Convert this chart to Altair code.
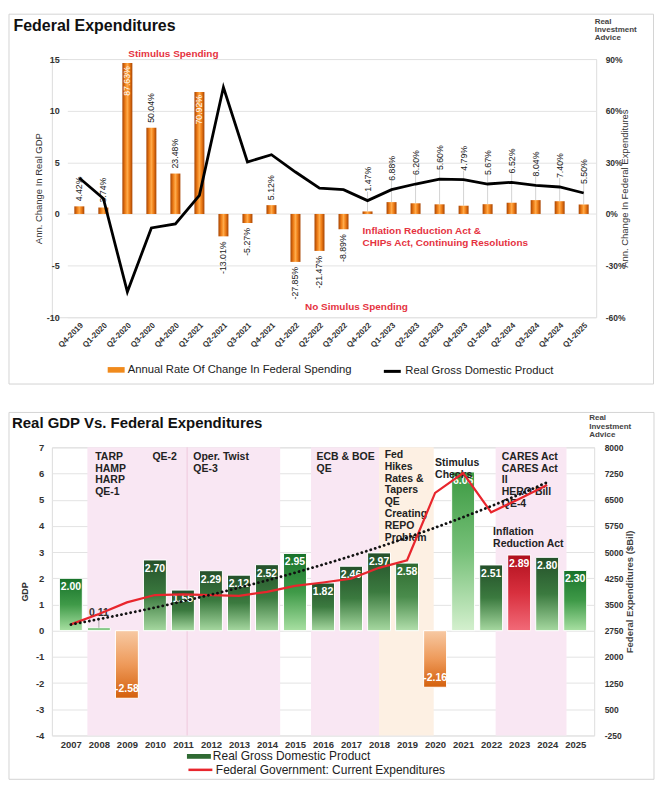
import altair as alt
import pandas as pd

# ---------------- data: top panel (quarterly) ----------------
quarters = ["Q4-2019", "Q1-2020", "Q2-2020", "Q3-2020", "Q4-2020", "Q1-2021", "Q2-2021",
            "Q3-2021", "Q4-2021", "Q1-2022", "Q2-2022", "Q3-2022", "Q4-2022", "Q1-2023",
            "Q2-2023", "Q3-2023", "Q4-2023", "Q1-2024", "Q2-2024", "Q3-2024", "Q4-2024", "Q1-2025"]
fed_spending_pct = [4.42, 3.74, 87.63, 50.04, 23.48, 70.92, -13.01, -5.27, 5.12, -27.85, -21.47,
                    -8.89, 1.47, 6.88, 6.20, 5.60, 4.79, 5.67, 6.52, 8.04, 7.40, 5.50]
real_gdp_quarterly = [3.48, 1.5, -7.54, -1.35, -0.97, 1.8, 12.27, 5.03, 5.74, 4.06, 2.5,
                      2.35, 1.29, 2.35, 2.9, 3.38, 3.32, 2.9, 3.06, 2.77, 2.61, 2.03]

top_notes = ["Stimulus Spending", "No Simulus Spending",
             "Inflation Reduction Act &\nCHIPs Act, Continuing Resolutions"]
top_note_quarter = ["Q4-2020", "Q3-2022", "Q4-2022"]
top_note_gdp = [15.46, -9.0, -1.2]

# ---------------- data: bottom panel (annual) ----------------
years = list(range(2007, 2026))
real_gdp_annual = [2.00, 0.11, -2.58, 2.70, 1.55, 2.29, 2.12, 2.52, 2.95, 1.82, 2.46, 2.97,
                   2.58, -2.16, 6.06, 2.51, 2.89, 2.80, 2.30]
exp_years = list(range(2007, 2025))
fed_expenditures_bil = [2930, 3230, 3560, 3770, 3792, 3770, 3748, 3860, 4032, 4130, 4242, 4550,
                        4767, 6695, 7265, 6140, 6522, 6920]

pink_start = [2007.59, 2015.57, 2022.16]
pink_end = [2014.47, 2018.0, 2024.69]
peach_start = [2018.0]
peach_end = [2019.95]
divider_years = [2011.15]

bottom_notes = ["TARP\nHAMP\nHARP\nQE-1", "QE-2", "Oper. Twist\nQE-3", "ECB & BOE\nQE",
                "Fed\nHikes\nRates &\nTapers\nQE\nCreating\nREPO\nProblem", "Stimulus\nChecks",
                "CARES Act\nCARES Act\nII\nHERO Bill\nQE-4", "Inflation\nReduction Act"]
bottom_note_year = [2007.87, 2009.91, 2011.37, 2015.77, 2018.2, 2020.0, 2022.38, 2022.07]
bottom_note_gdp = [6.83, 6.83, 6.83, 6.83, 6.89, 6.6, 6.83, 3.94]

# ---------------- styling ----------------
FONT = "Liberation Sans"
RED_TXT = "#e5333f"
X0 = 15.5                  # left inset of the top plot's bands inside its (wider) group
W1, H1 = 546, 259
W2, H2 = 544, 289
HYPHEN_LABEL = "datum.value + ''"

BAR_STYLE = {
    "dark": [2010, 2011, 2012, 2013, 2014, 2016, 2017, 2018, 2022, 2024],
    "bright": [2007, 2015, 2025],
    "mid": [2019],
    "light": [2021],
    "small": [2008],
    "neg": [2009, 2020],
    "red": [2023],
}
GRAD_COLORS = {
    "dark": ["#24502a", "#3b7a3f", "#a6d8a0"],
    "bright": ["#17722a", "#3f9a48", "#a8e0a2"],
    "mid": ["#2e6a30", "#4a8c4c", "#b2dfac"],
    "light": ["#3c9a42", "#76c078", "#d4f0ce"],
    "small": ["#4aa84e", "#7cc47c", "#b8e4b4"],
    "neg": ["#f7c9a3", "#ee9a5a", "#d4600c"],
    "red": ["#b0101e", "#d8303e", "#f26a78"],
}


def vgrad(cols):
    return alt.Gradient(gradient="linear",
                        stops=[alt.GradientStop(color=cols[0], offset=0),
                               alt.GradientStop(color=cols[1], offset=0.5),
                               alt.GradientStop(color=cols[2], offset=1)],
                        x1=0, x2=0, y1=0, y2=1)


orange_grad = alt.Gradient(gradient="linear",
                           stops=[alt.GradientStop(color="#a84300", offset=0),
                                  alt.GradientStop(color="#f0801a", offset=0.3),
                                  alt.GradientStop(color="#ffab4a", offset=0.5),
                                  alt.GradientStop(color="#f0801a", offset=0.7),
                                  alt.GradientStop(color="#a84300", offset=1)],
                           x1=0, x2=1, y1=0, y2=0)

one_row = alt.Data(values=[{"k": 1}])

# ================= TOP PANEL =================
top_df = pd.DataFrame({"q": quarters, "pct": fed_spending_pct, "gdp": real_gdp_quarterly})
top_df["i"] = range(len(top_df))
base_top = alt.Chart(top_df)

x_top_axis = alt.Axis(title=None, labelAngle=315, labelFontSize=8, labelFontWeight="bold",
                      labelColor="#333", ticks=False, domain=False, labelPadding=4, grid=False)


def x_top(field="q"):
    return alt.X(f"{field}:N", sort=quarters,
                 scale=alt.Scale(domain=quarters, paddingInner=0, paddingOuter=0,
                                 range=[X0, W1 - 0.5]),
                 axis=x_top_axis)


right_axis_top = alt.Axis(orient="right", values=[-60, -30, 0, 30, 60, 90],
                          labelExpr="datum.value + '%'",
                          title="Ann. Change In Federal Expenditures", titleAngle=270,
                          titleFontSize=9.5, titleFontWeight="normal", titleColor="#333",
                          labelFontSize=8.5, labelFontWeight="bold", labelColor="#333",
                          ticks=False, domain=False, grid=False, labelPadding=9, titlePadding=5)


def y_right(field):
    return alt.Y(f"{field}:Q", scale=alt.Scale(domain=[-60, 90], nice=False), axis=right_axis_top)


left_axis_top = alt.Axis(orient="left", values=[-10, -5, 0, 5, 10, 15], offset=-X0,
                         labelExpr=HYPHEN_LABEL,
                         title="Ann. Change In Real GDP", titleFontSize=9.5,
                         titleFontWeight="normal", titleColor="#333",
                         labelFontSize=9, labelFontWeight="bold", labelColor="#333",
                         ticks=False, domain=False, grid=True, gridColor="#e3e3e3",
                         labelPadding=8, titlePadding=3)


def y_left(field):
    return alt.Y(f"{field}:Q", scale=alt.Scale(domain=[-10, 15], nice=False), axis=left_axis_top)


lbl_calc = "(datum.pct < 0 ? '-' : '') + format(abs(datum.pct), '.2f') + '%'"

leaders = base_top.transform_filter("datum.i >= 12").transform_calculate(
    gdp6="datum.gdp * 6").mark_rule(color="#c8c8c8", strokeWidth=0.8, y2Offset=-9).encode(
    x=x_top(), y=y_right("pct"), y2="gdp6:Q")

bars_top = base_top.mark_bar(size=10, color=orange_grad).encode(x=x_top(), y=y_right("pct"))

lab_in = base_top.transform_filter("datum.pct > 60").transform_calculate(lbl=lbl_calc).mark_text(
    angle=270, align="right", baseline="middle", dx=-3, fontSize=8.8, color="white").encode(
    x=x_top(), y=y_right("pct"), text="lbl:N")
lab_pos = base_top.transform_filter("datum.pct >= 0 && datum.pct <= 60 && datum.i < 12").transform_calculate(
    lbl=lbl_calc).mark_text(angle=270, align="left", baseline="middle", dx=5, fontSize=8.8,
                            color="#222").encode(x=x_top(), y=y_right("pct"), text="lbl:N")
lab_neg = base_top.transform_filter("datum.pct < 0").transform_calculate(lbl=lbl_calc).mark_text(
    angle=270, align="right", baseline="middle", dx=-5, fontSize=8.8, color="#222").encode(
    x=x_top(), y=y_right("pct"), text="lbl:N")

spend_label = "Annual Rate Of Change In Federal Spending"
helper_top = alt.Chart(alt.Data(values=[{"s": spend_label}])).transform_filter("false").mark_bar().encode(
    fill=alt.Fill("s:N", scale=alt.Scale(domain=[spend_label], range=["#f08a1c"]),
                  legend=alt.Legend(title=None, orient="none", legendX=56, legendY=303.3,
                                    symbolType="M-1,-0.33H1V0.33H-1Z", symbolSize=289,
                                    symbolStrokeWidth=0, labelFontSize=11.3, labelColor="#222",
                                    labelLimit=500, labelOffset=3, padding=0)))

bars_group = alt.layer(leaders, bars_top, lab_in, lab_pos, lab_neg, helper_top)

gdp_label = "Real Gross Domestic Product"
line_top = base_top.transform_calculate(series=f"'{gdp_label}'").mark_line(strokeWidth=2.8).encode(
    x=x_top(), y=y_left("gdp"),
    stroke=alt.Stroke("series:N", scale=alt.Scale(domain=[gdp_label], range=["#000000"]),
                      legend=alt.Legend(title=None, orient="none", legendX=331.5, legendY=303.3,
                                        symbolType="stroke", symbolSize=289, symbolStrokeWidth=3,
                                        labelFontSize=11.3, labelColor="#222", labelLimit=500,
                                        labelOffset=3, padding=0)))

callouts = base_top.transform_filter("datum.i >= 12").transform_calculate(lbl=lbl_calc).mark_text(
    angle=270, align="left", baseline="middle", dx=9, fontSize=8.8, color="#222").encode(
    x=x_top(), y=y_left("gdp"), text="lbl:N")

tn = pd.DataFrame({"t": top_notes, "q": top_note_quarter, "g": top_note_gdp})
note_a = alt.Chart(tn.iloc[[0]]).mark_text(align="center", baseline="middle", dx=-2, fontSize=10,
                                            fontWeight="bold", color=RED_TXT).encode(
    x=x_top(), y=y_left("g"), text="t:N")
note_b = alt.Chart(tn.iloc[[1]]).mark_text(align="center", baseline="middle", dx=13, fontSize=10,
                                            fontWeight="bold", color=RED_TXT).encode(
    x=x_top(), y=y_left("g"), text="t:N")
note_c = alt.Chart(tn.iloc[[2]]).mark_text(align="left", baseline="top", dx=-5, fontSize=10,
                                            fontWeight="bold", color=RED_TXT, lineBreak="\n",
                                            lineHeight=11.3).encode(
    x=x_top(), y=y_left("g"), text="t:N")

title_top = alt.Chart(one_row).mark_text(text="Federal Expenditures", align="left",
                                         baseline="alphabetic", fontSize=16, fontWeight="bold",
                                         color="#111").encode(x=alt.value(-38.5), y=alt.value(-28))
logo_top = alt.Chart(one_row).mark_text(text="Real\nInvestment\nAdvice", lineBreak="\n",
                                        lineHeight=8.2, align="left", baseline="top", fontSize=8,
                                        fontWeight="bold", color="#444").encode(
    x=alt.value(544.5), y=alt.value(-41))
frame_top = alt.Chart(one_row).mark_rect(fillOpacity=0, stroke="#d4d4d4", strokeWidth=1).encode(
    x=alt.value(-43), x2=alt.value(603.5), y=alt.value(-45), y2=alt.value(326))

line_group = alt.layer(line_top, callouts, note_a, note_b, note_c, title_top, logo_top, frame_top)

top = alt.layer(bars_group, line_group).resolve_scale(y="independent").properties(width=W1, height=H1)

# ================= BOTTOM PANEL =================
bot_df = pd.DataFrame({"year": years, "gdp": real_gdp_annual})
exp_df = pd.DataFrame({"year": exp_years, "bil": fed_expenditures_bil})

x_bot_axis = alt.Axis(values=years, format="d", title=None, labelFontSize=9.5,
                      labelFontWeight="bold", labelColor="#333", ticks=False, domain=False,
                      grid=False, labelPadding=4, labelAngle=0, labelOverlap=False,
                      labelFlush=False)


def x_bot(field):
    return alt.X(f"{field}:Q", scale=alt.Scale(domain=[2006.5, 2025.5], nice=False, zero=False),
                 axis=x_bot_axis)


gdp_scale = alt.Scale(domain=[-4, 7], nice=False)
left_axis_bot = alt.Axis(orient="left", values=list(range(-4, 8)), labelExpr=HYPHEN_LABEL,
                         labelOverlap=False, title="GDP", titleFontSize=9,
                         titleFontWeight="bold", titleColor="#333", labelFontSize=9.5,
                         labelFontWeight="bold", labelColor="#333", ticks=False, domain=False,
                         grid=True, gridColor="#e3e3e3", labelPadding=8, titlePadding=6)


def y_gdp(field):
    return alt.Y(f"{field}:Q", scale=gdp_scale, axis=left_axis_bot)


right_axis_bot = alt.Axis(orient="right",
                          values=[-250, 500, 1250, 2000, 2750, 3500, 4250, 5000, 5750, 6500, 7250, 8000],
                          labelExpr=HYPHEN_LABEL, labelOverlap=False,
                          title="Federal Expenditures ($Bil)", titleAngle=270,
                          titleFontSize=9.5, titleFontWeight="bold", titleColor="#444",
                          labelFontSize=8.5, labelFontWeight="bold", labelColor="#333",
                          ticks=False, domain=False, grid=False, labelPadding=10, titlePadding=12)


def y_bil(field):
    return alt.Y(f"{field}:Q", scale=alt.Scale(domain=[-250, 8000], nice=False, zero=False),
                 axis=right_axis_bot)


y_top_edge = alt.YDatum(7, type="quantitative", scale=gdp_scale, axis=left_axis_bot)
y_bottom_edge = alt.Y2Datum(-4)

pink = alt.Chart(pd.DataFrame({"s": pink_start, "e": pink_end})).mark_rect(color="#f9e7f3").encode(
    x=x_bot("s"), x2="e:Q", y=y_top_edge, y2=y_bottom_edge)
peach = alt.Chart(pd.DataFrame({"s": peach_start, "e": peach_end})).mark_rect(color="#fdf0e3").encode(
    x=x_bot("s"), x2="e:Q", y=y_top_edge, y2=y_bottom_edge)
divider = alt.Chart(pd.DataFrame({"d": divider_years})).mark_rule(color="#efc8dc", strokeWidth=1).encode(
    x=x_bot("d"), y=y_top_edge, y2=y_bottom_edge)

bar_layers = []
for name, yrs in BAR_STYLE.items():
    bar_layers.append(
        alt.Chart(bot_df).transform_filter(alt.FieldOneOfPredicate(field="year", oneOf=yrs))
        .mark_bar(size=23, orient="vertical", color=vgrad(GRAD_COLORS[name]), stroke="white",
                  strokeWidth=1)
        .encode(x=x_bot("year"), y=y_gdp("gdp")))

gdp_lbl = "(datum.gdp < 0 ? '-' : '') + format(abs(datum.gdp), '.2f')"
lab_w = alt.Chart(bot_df).transform_filter("datum.gdp >= 0.5").transform_calculate(lbl=gdp_lbl).mark_text(
    baseline="top", dy=4, fontSize=10.5, fontWeight="bold", color="white").encode(
    x=x_bot("year"), y=y_gdp("gdp"), text="lbl:N")
lab_s = alt.Chart(bot_df).transform_filter("datum.gdp >= 0 && datum.gdp < 0.5").transform_calculate(
    lbl=gdp_lbl).mark_text(baseline="bottom", dy=-10, fontSize=10.5, fontWeight="bold",
                           color="#333").encode(x=x_bot("year"), y=y_gdp("gdp"), text="lbl:N")
lead_s = alt.Chart(bot_df).transform_filter("datum.gdp >= 0 && datum.gdp < 0.5").mark_rule(
    color="#9a9a9a", strokeWidth=0.8, y2Offset=-9).encode(
    x=x_bot("year"), y=y_gdp("gdp"), y2="gdp:Q")
lab_n = alt.Chart(bot_df).transform_filter("datum.gdp < 0").transform_calculate(lbl=gdp_lbl).mark_text(
    baseline="bottom", dy=-4, fontSize=10.5, fontWeight="bold", color="white").encode(
    x=x_bot("year"), y=y_gdp("gdp"), text="lbl:N")

bn = pd.DataFrame({"t": bottom_notes, "x": bottom_note_year, "y": bottom_note_gdp})
notes_bot = alt.Chart(bn).mark_text(align="left", baseline="top", lineBreak="\n", lineHeight=11.8,
                                    fontSize=10.5, fontWeight="bold", color="#222").encode(
    x=x_bot("x"), y=y_gdp("y"), text="t:N")

rgdp_label = "Real Gross Domestic Product"
helper_bot = alt.Chart(alt.Data(values=[{"s": rgdp_label}])).transform_filter("false").mark_bar().encode(
    fill=alt.Fill("s:N", scale=alt.Scale(domain=[rgdp_label], range=["#2f6a33"]),
                  legend=alt.Legend(title=None, orient="none", legendX=135.5, legendY=298,
                                    symbolType="M-1,-0.2H1V0.2H-1Z", symbolSize=576,
                                    symbolStrokeWidth=0, labelFontSize=12, labelColor="#222",
                                    labelLimit=500, labelOffset=2, padding=0)))

title_bot = alt.Chart(one_row).mark_text(text="Real GDP Vs. Federal Expenditures", align="left",
                                         baseline="alphabetic", fontSize=15, fontWeight="bold",
                                         color="#111").encode(x=alt.value(-40), y=alt.value(-19))
logo_bot = alt.Chart(one_row).mark_text(text="Real\nInvestment\nAdvice", lineBreak="\n",
                                        lineHeight=8.2, align="left", baseline="top", fontSize=8,
                                        fontWeight="bold", color="#444").encode(
    x=alt.value(539), y=alt.value(-33))
frame_bot = alt.Chart(one_row).mark_rect(fillOpacity=0, stroke="#d4d4d4", strokeWidth=1).encode(
    x=alt.value(-43), x2=alt.value(604), y=alt.value(-35), y2=alt.value(333))

group_a = alt.layer(pink, peach, divider, *bar_layers, lead_s, lab_w, lab_s, lab_n, notes_bot,
                    helper_bot, title_bot, logo_bot, frame_bot)

fed_label = "Federal Government: Current Expenditures"
red_line = alt.Chart(exp_df).transform_calculate(series=f"'{fed_label}'").mark_line(strokeWidth=2.2).encode(
    x=x_bot("year"), y=y_bil("bil"),
    stroke=alt.Stroke("series:N", scale=alt.Scale(domain=[fed_label], range=["#e8262d"]),
                      legend=alt.Legend(title=None, orient="none", legendX=135.5, legendY=310,
                                        symbolType="stroke", symbolSize=576, symbolStrokeWidth=2.5,
                                        labelFontSize=12, labelColor="#222", labelLimit=500,
                                        labelOffset=2, padding=0)))
trend = alt.Chart(exp_df).transform_regression("year", "bil", method="exp").mark_line(
    color="#111", strokeWidth=2.8, strokeDash=[0.1, 4.6], strokeCap="round").encode(
    x=x_bot("year"), y=y_bil("bil"))

group_b = alt.layer(red_line, trend)

bottom = alt.layer(group_a, group_b).resolve_scale(y="independent").properties(width=W2, height=H2)

chart = alt.vconcat(top, bottom, spacing=26.5).resolve_scale(
    fill="independent", stroke="independent").properties(
    padding={"left": 0, "top": 4, "right": 0, "bottom": 0}).configure_view(
    stroke=None).configure(font=FONT, background="white")

chart.save("out.html", embed_options={"renderer": "svg", "actions": False})
